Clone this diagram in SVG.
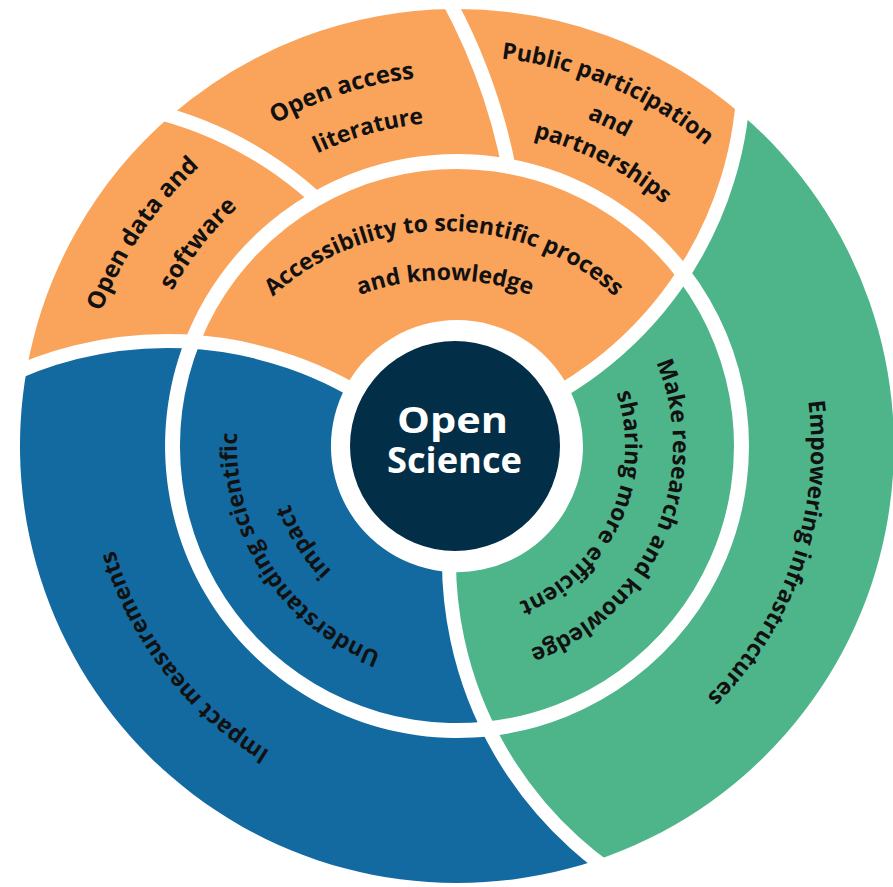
<svg xmlns="http://www.w3.org/2000/svg" width="893" height="887" viewBox="0 0 893 887">
<style>
.or{fill:#FAA35B}
.bl{fill:#136AA0}
.gr{fill:#4EB58A}
.lbl{font-family:"Open Sans","Liberation Sans",sans-serif;font-weight:700;font-size:23px;fill:#111}
.big{font-size:24px}
.ctr{font-family:"Open Sans","Liberation Sans",sans-serif;font-weight:700;font-size:36px;fill:#fff}
.dv{fill:none;stroke:#fff;stroke-width:14}
</style>
<defs>
<clipPath id="outerZone"><path clip-rule="evenodd" d="M-100 -100H1000V1000H-100Z M457 161.5A284.5 284.5 0 1 0 457 730.5A284.5 284.5 0 1 0 457 161.5Z"/></clipPath>
<path id="p1" d="M115.5 612.6A380 380 0 0 1 483.5 66.9"/>
<path id="p2" d="M156.6 567.4A324 324 0 0 1 502.1 125.1"/>
<path id="p3" d="M95.1 369.1A370 370 0 0 1 704.6 171"/>
<path id="p4" d="M143 366A324 324 0 0 1 683.3 214.1"/>
<path id="p5" d="M222.8 134.1A390 390 0 0 1 844.2 399.2"/>
<path id="p6" d="M256.1 157A352 352 0 0 1 807.8 416.5"/>
<path id="p7" d="M284.7 178.7A318 318 0 0 1 774.6 430.5"/>
<path id="p8" d="M723.8 213.3A354 354 0 0 1 525.1 793.4"/>
<path id="p9" d="M631.2 318.3A216 216 0 0 1 480.5 660.7"/>
<path id="p10" d="M575.8 327.2A168 168 0 0 1 442.4 613.4"/>
<path id="p11" d="M469.3 665.7A220 220 0 0 1 260.6 346.8"/>
<path id="p12" d="M463.2 622.9A177 177 0 0 1 300.7 362.9"/>
<path id="p13" d="M505 800.8A358 358 0 0 1 125.8 310.1"/>
<path id="p14" d="M206 447A238 216 0 0 1 682 447"/>
<path id="p15" d="M239 447A206 167 0 0 1 651 447"/>
</defs>

<g id="open-data">
<path class="or" d="M27 368A437 437 0 0 1 170.5 116A375 375 0 0 1 310.5 193.4A292 292 0 0 0 184.4 341.5A376 376 0 0 0 27 368Z"/>
<text class="lbl big"><textPath href="#p1" startOffset="50%" text-anchor="middle">Open data and</textPath></text>
<text class="lbl big"><textPath href="#p2" startOffset="50%" text-anchor="middle">software</textPath></text>
</g>
<g id="open-access">
<path class="or" d="M170.5 116A437 437 0 0 1 453 9A600 600 0 0 1 506.7 158.2A292 292 0 0 0 310.5 193.4A375 375 0 0 0 170.5 116Z"/>
<text class="lbl big"><textPath href="#p3" startOffset="50%" text-anchor="middle">Open access</textPath></text>
<text class="lbl"><textPath href="#p4" startOffset="50%" text-anchor="middle">literature</textPath></text>
</g>
<g id="public-participation">
<path class="or" d="M453 9A437 437 0 0 1 741.3 114.2A373 373 0 0 1 687.7 267A292 292 0 0 0 506.7 158.2A600 600 0 0 0 453 9Z"/>
<text class="lbl"><textPath href="#p5" startOffset="50%" text-anchor="middle">Public participation</textPath></text>
<text class="lbl"><textPath href="#p6" startOffset="50%" text-anchor="middle">and</textPath></text>
<text class="lbl"><textPath href="#p7" startOffset="50%" text-anchor="middle">partnerships</textPath></text>
</g>
<g id="empowering-infrastructures">
<path class="gr" d="M741.3 114.2A437 437 0 0 1 595.7 860.4A381 381 0 0 1 492 735.9A292 292 0 0 0 687.7 267A373 373 0 0 0 741.3 114.2Z"/>
<text class="lbl"><textPath href="#p8" startOffset="50%" text-anchor="middle">Empowering infrastructures</textPath></text>
</g>
<g id="impact-measurements">
<path class="bl" d="M595.7 860.4A437 437 0 0 1 27 368A376 376 0 0 1 184.4 341.5A292 292 0 0 0 492 735.9A381 381 0 0 0 595.7 860.4Z"/>
<text class="lbl"><textPath href="#p13" startOffset="50%" text-anchor="middle">Impact measurements</textPath></text>
</g>
<g id="accessibility">
<path class="or" d="M200.1 342.4A277 277 0 0 1 678.9 280.3A373 373 0 0 1 568.1 386.7A126 126 0 0 0 346 386.4A376 376 0 0 0 200.1 342.4Z"/>
<text class="lbl"><textPath href="#p14" startOffset="50%" text-anchor="middle">Accessibility to scientific process</textPath></text>
<text class="lbl"><textPath href="#p15" startOffset="50%" text-anchor="middle">and knowledge</textPath></text>
</g>
<g id="make-research-efficient">
<path class="gr" d="M678.9 280.3A277 277 0 0 1 484.9 721.7A381 381 0 0 1 449.2 571.9A126 126 0 0 0 568.1 386.7A373 373 0 0 0 678.9 280.3Z"/>
<text class="lbl"><textPath href="#p9" startOffset="50%" text-anchor="middle">Make research and knowledge</textPath></text>
<text class="lbl"><textPath href="#p10" startOffset="50%" text-anchor="middle">sharing more efficient</textPath></text>
</g>
<g id="understanding-impact">
<path class="bl" d="M484.9 721.7A277 277 0 0 1 200.1 342.4A376 376 0 0 1 346 386.4A126 126 0 0 0 449.2 571.9A381 381 0 0 0 484.9 721.7Z"/>
<text class="lbl"><textPath href="#p11" startOffset="50%" text-anchor="middle">Understanding scientific</textPath></text>
<text class="lbl"><textPath href="#p12" startOffset="50%" text-anchor="middle">impact</textPath></text>
</g>

<g id="dividers">
<path class="dv" d="M-21 391.4A376 376 0 0 1 382.7 409"/>
<path class="dv" d="M744 70A373 373 0 0 1 498.6 420.5"/>
<path class="dv" d="M669 905.3A381 381 0 0 1 450.4 526.8"/>
<g clip-path="url(#outerZone)">
<path class="dv" d="M147.6 109.9A375 375 0 0 1 341.9 224.4"/>
<path class="dv" d="M440 -15A600 600 0 0 1 514.6 201.5"/>
</g>
</g>

<g id="open-science">
<circle cx="455" cy="446" r="105" fill="#032E48"/>
<text class="ctr" x="397" y="433" textLength="111" lengthAdjust="spacingAndGlyphs">Open</text>
<text class="ctr" x="387" y="473" textLength="135" lengthAdjust="spacingAndGlyphs">Science</text>
</g>
</svg>
